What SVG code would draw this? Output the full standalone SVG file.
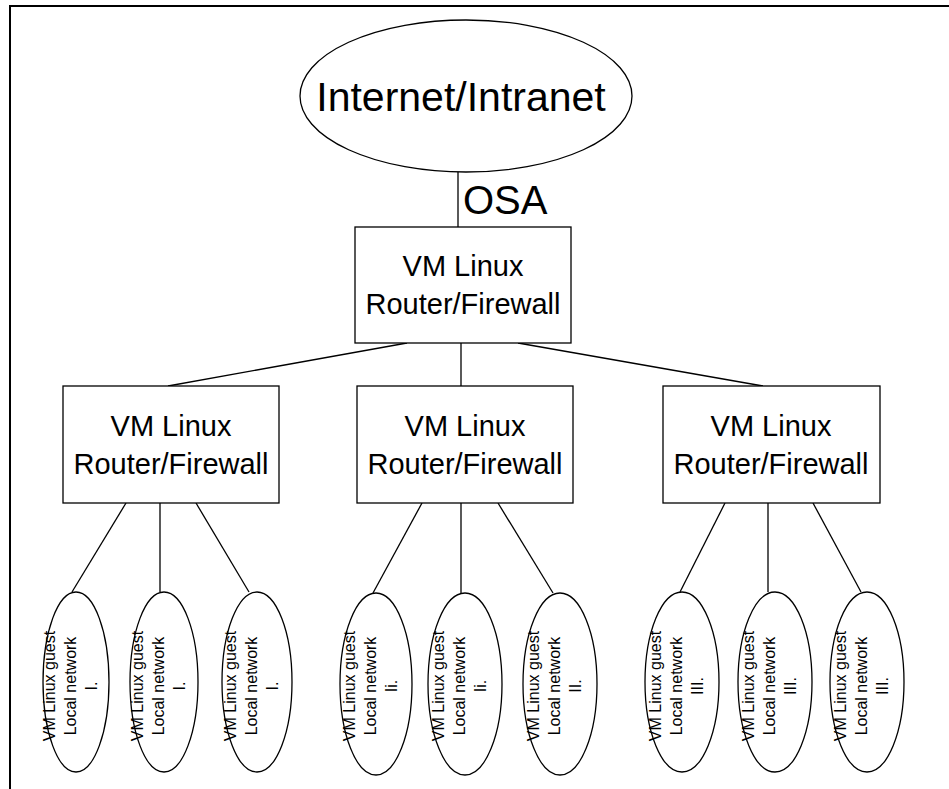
<svg xmlns="http://www.w3.org/2000/svg" width="949" height="789" viewBox="0 0 949 789">
<style>
.s{fill:none;stroke:#000;stroke-width:1.3}
.f{fill:#fff;stroke:#000;stroke-width:1.3}
.t{font-family:"Liberation Sans",Arial,sans-serif;fill:#000;text-anchor:middle}
.b{font-size:29px}
.g{font-size:16px}
</style>
<rect width="949" height="789" fill="#fff"/>
<g id="frame"><path d="M10,789 V6 H949" fill="none" stroke="#000" stroke-width="2"/></g>
<g id="connectors" class="s">
<line x1="458" y1="172" x2="458" y2="227"/>
<line x1="407" y1="343" x2="168" y2="386"/>
<line x1="461" y1="343" x2="461" y2="386"/>
<line x1="518" y1="343" x2="763" y2="386"/>
<line x1="126" y1="503" x2="72" y2="592"/>
<line x1="160" y1="503" x2="160" y2="592"/>
<line x1="196" y1="503" x2="249" y2="592"/>
<line x1="422" y1="503" x2="373" y2="593"/>
<line x1="461" y1="503" x2="461" y2="593"/>
<line x1="498" y1="503" x2="553" y2="593"/>
<line x1="725" y1="503" x2="680" y2="592"/>
<line x1="768" y1="503" x2="768" y2="592"/>
<line x1="813" y1="503" x2="861" y2="592"/>
</g>
<g id="internet">
<ellipse class="f" cx="466" cy="96" rx="166" ry="76"/>
<text class="t" x="461" y="111" font-size="41">Internet/Intranet</text>
</g>
<g id="osa-label"><text class="t" x="463" y="214" font-size="40" style="text-anchor:start">OSA</text></g>
<g id="router-top">
<rect class="f" x="355" y="227" width="216" height="116"/>
<text class="t b" x="463" y="276">VM Linux</text>
<text class="t b" x="463" y="314">Router/Firewall</text>
</g>
<g id="router-1">
<rect class="f" x="63" y="386" width="216" height="117"/>
<text class="t b" x="171" y="436">VM Linux</text>
<text class="t b" x="171" y="474">Router/Firewall</text>
</g>
<g id="router-2">
<rect class="f" x="357" y="386" width="216" height="117"/>
<text class="t b" x="465" y="436">VM Linux</text>
<text class="t b" x="465" y="474">Router/Firewall</text>
</g>
<g id="router-3">
<rect class="f" x="663" y="386" width="217" height="117"/>
<text class="t b" x="771" y="436">VM Linux</text>
<text class="t b" x="771" y="474">Router/Firewall</text>
</g>
<g id="guest-1a"><ellipse class="f" cx="76" cy="682" rx="33" ry="90"/>
<text class="t g" transform="translate(76,686) rotate(-90)"><tspan x="0" y="-21">VM Linux guest</tspan><tspan x="0" y="0">Local network</tspan><tspan x="0" y="21">I.</tspan></text></g>
<g id="guest-1b"><ellipse class="f" cx="164" cy="682" rx="34" ry="90"/>
<text class="t g" transform="translate(164,686) rotate(-90)"><tspan x="0" y="-21">VM Linux guest</tspan><tspan x="0" y="0">Local network</tspan><tspan x="0" y="21">I.</tspan></text></g>
<g id="guest-1c"><ellipse class="f" cx="257" cy="682" rx="35" ry="90"/>
<text class="t g" transform="translate(257,686) rotate(-90)"><tspan x="0" y="-21">VM Linux guest</tspan><tspan x="0" y="0">Local network</tspan><tspan x="0" y="21">I.</tspan></text></g>
<g id="guest-2a"><ellipse class="f" cx="376" cy="684" rx="36" ry="91"/>
<text class="t g" transform="translate(376,686) rotate(-90)"><tspan x="0" y="-21">VM Linux guest</tspan><tspan x="0" y="0">Local network</tspan><tspan x="0" y="21">Ii.</tspan></text></g>
<g id="guest-2b"><ellipse class="f" cx="465" cy="684" rx="37" ry="91"/>
<text class="t g" transform="translate(465,686) rotate(-90)"><tspan x="0" y="-21">VM Linux guest</tspan><tspan x="0" y="0">Local network</tspan><tspan x="0" y="21">Ii.</tspan></text></g>
<g id="guest-2c"><ellipse class="f" cx="560" cy="684" rx="37" ry="91"/>
<text class="t g" transform="translate(560,686) rotate(-90)"><tspan x="0" y="-21">VM Linux guest</tspan><tspan x="0" y="0">Local network</tspan><tspan x="0" y="21">II.</tspan></text></g>
<g id="guest-3a"><ellipse class="f" cx="682" cy="682" rx="37" ry="90"/>
<text class="t g" transform="translate(682,686) rotate(-90)"><tspan x="0" y="-21">VM Linux guest</tspan><tspan x="0" y="0">Local network</tspan><tspan x="0" y="21">III.</tspan></text></g>
<g id="guest-3b"><ellipse class="f" cx="775" cy="682" rx="37" ry="90"/>
<text class="t g" transform="translate(775,686) rotate(-90)"><tspan x="0" y="-21">VM Linux guest</tspan><tspan x="0" y="0">Local network</tspan><tspan x="0" y="21">III.</tspan></text></g>
<g id="guest-3c"><ellipse class="f" cx="867" cy="682" rx="37" ry="90"/>
<text class="t g" transform="translate(867,686) rotate(-90)"><tspan x="0" y="-21">VM Linux guest</tspan><tspan x="0" y="0">Local network</tspan><tspan x="0" y="21">III.</tspan></text></g>
</svg>
